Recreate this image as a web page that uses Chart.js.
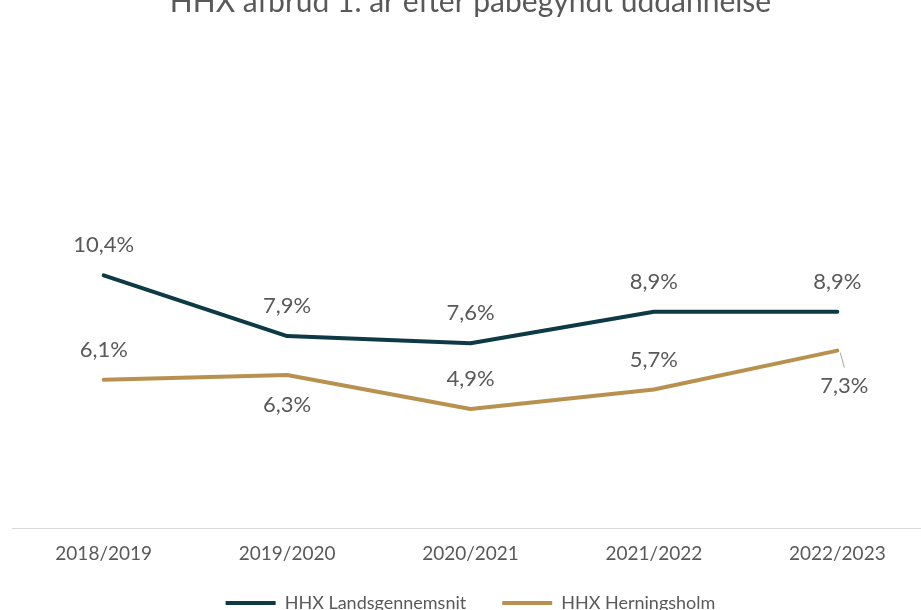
<!DOCTYPE html>
<html>
<head>
<meta charset="utf-8">
<script src="https://cdn.jsdelivr.net/npm/chart.js@4/dist/chart.umd.min.js"></script>
<style>
  html, body { margin: 0; padding: 0; background: #ffffff; overflow: hidden; }
  #wrap { position: relative; width: 921px; height: 610px; overflow: hidden; }
  #box { position: absolute; left: 0; top: -20px; width: 929px; height: 642px; }
</style>
</head>
<body>
<div id="wrap"><div id="box"><canvas id="c"></canvas></div></div>
<script>
const chartTitle = 'HHX afbrud 1. år efter påbegyndt uddannelse';
const categories = ['2018/2019', '2019/2020', '2020/2021', '2021/2022', '2022/2023'];
const seriesNames = ['HHX Landsgennemsnit', 'HHX Herningsholm'];
const landsgennemsnit = [10.4, 7.9, 7.6, 8.9, 8.9];
const herningsholm = [6.1, 6.3, 4.9, 5.7, 7.3];
const labelPlacementLands = ['above', 'above', 'above', 'above', 'above'];
const labelPlacementHern = ['above', 'below', 'above', 'above', 'belowRight'];

const TEXT = '#595959';
const FONT = 'Lato, "Open Sans", sans-serif';

const dataLabelPlugin = {
  id: 'dataLabels',
  afterLayout(chart) {
    // let the x tick labels extend below the compacted axis box (avoid clipping)
    const xs = chart.scales.x;
    xs.bottom = xs.top + 45;
  },
  afterDatasetsDraw(chart) {
    const ctx = chart.ctx;
    ctx.save();
    ctx.font = '22px ' + FONT;
    ctx.fillStyle = TEXT;
    ctx.textAlign = 'center';
    ctx.textBaseline = 'middle';
    chart.data.datasets.forEach((ds, di) => {
      const meta = chart.getDatasetMeta(di);
      meta.data.forEach((pt, i) => {
        const txt = ds.data[i].toFixed(1).replace('.', ',') + '%';
        const place = ds.labelPlacement[i];
        let x = pt.x, y = pt.y;
        if (place === 'above') { y -= 30; }
        else if (place === 'below') { y += 30; }
        else if (place === 'belowRight') {
          ctx.save();
          ctx.strokeStyle = '#a6a6a6';
          ctx.lineWidth = 1;
          ctx.beginPath();
          ctx.moveTo(pt.x + 3, pt.y + 2);
          ctx.lineTo(pt.x + 7, pt.y + 17);
          ctx.stroke();
          ctx.restore();
          x += 7; y += 35;
        }
        ctx.fillText(txt, x, y);
      });
    });
    ctx.restore();
  }
};

new Chart(document.getElementById('c'), {
  type: 'line',
  data: {
    labels: categories,
    datasets: [
      {
        label: seriesNames[0],
        data: landsgennemsnit,
        labelPlacement: labelPlacementLands,
        borderColor: '#0d3a45',
        backgroundColor: '#0d3a45',
        borderWidth: 4,
        pointRadius: 0,
        tension: 0,
        borderCapStyle: 'round',
        borderJoinStyle: 'round'
      },
      {
        label: seriesNames[1],
        data: herningsholm,
        labelPlacement: labelPlacementHern,
        borderColor: '#b89150',
        backgroundColor: '#b89150',
        borderWidth: 4,
        pointRadius: 0,
        tension: 0,
        borderCapStyle: 'round',
        borderJoinStyle: 'round'
      }
    ]
  },
  options: {
    responsive: true,
    maintainAspectRatio: false,
    animation: false,
    layout: { padding: { left: 12, right: 0, top: 0, bottom: 0 } },
    plugins: {
      title: {
        display: true,
        text: chartTitle,
        color: TEXT,
        font: { family: FONT, size: 30, weight: 'normal' },
        padding: { top: 4, bottom: 22 }
      },
      legend: {
        display: true,
        position: 'bottom',
        labels: {
          color: TEXT,
          font: { family: FONT, size: 18 },
          usePointStyle: true,
          pointStyle: 'line',
          pointStyleWidth: 50,
          padding: 36
        }
      },
      tooltip: { enabled: false }
    },
    scales: {
      x: {
        offset: true,
        grid: { display: false, drawTicks: false },
        border: { display: true, color: '#d9d9d9', width: 1 },
        ticks: { color: TEXT, font: { family: FONT, size: 19 }, padding: 14 },
        afterFit(scale) { scale.height = 30; }
      },
      y: {
        display: false,
        min: 0,
        max: 20
      }
    }
  },
  plugins: [dataLabelPlugin]
});
</script>
</body>
</html>
